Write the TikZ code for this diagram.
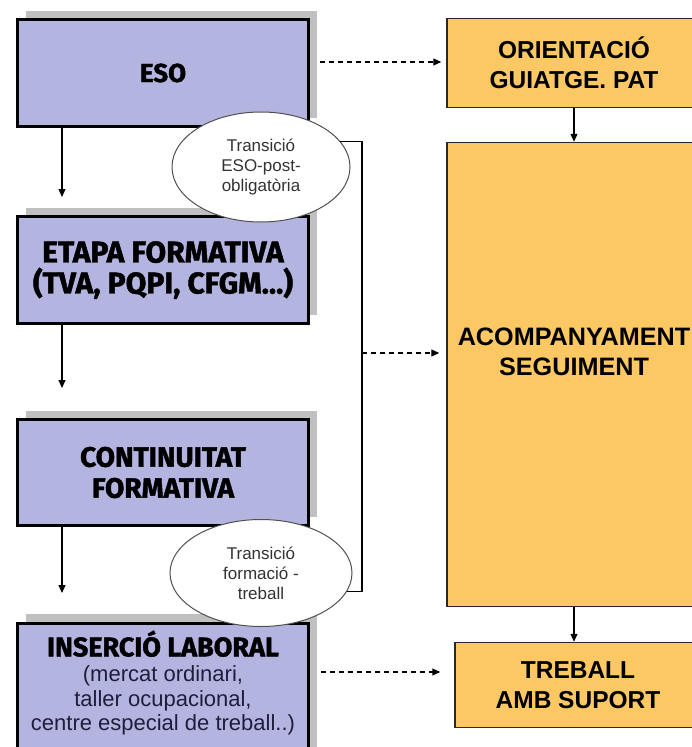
\documentclass[tikz,border=0pt]{standalone}
\usepackage{fontspec}
\setmainfont{Liberation Sans}
\newfontfamily\heavy{Fira Sans}[BoldFeatures={FakeBold=1.5}]
\usetikzlibrary{arrows.meta,shapes.geometric,shadows}
\definecolor{lav}{RGB}{180,180,225}
\definecolor{org}{RGB}{252,200,100}
\definecolor{shd}{RGB}{192,192,192}
\definecolor{navy}{RGB}{30,30,60}
\definecolor{ellline}{RGB}{80,80,80}
\definecolor{rline}{RGB}{40,40,40}
\begin{document}
\begin{tikzpicture}[x=1pt,y=-1pt,
  lbox/.style={draw=black, line width=3pt, fill=lav, minimum width=291pt, inner sep=0pt,
    align=center, text=black,
    drop shadow={shadow xshift=8pt, shadow yshift=9pt, fill=shd, opacity=1}},
  ltitle/.style={font=\heavy\bfseries\fontsize{#1}{31}\selectfont},
  ell/.style={ellipse, draw=ellline, line width=1pt, fill=white, align=center, inner sep=0pt,
    text=black!80, font=\fontsize{17}{20}\selectfont},
  rbox/.style={draw=rline, line width=1.5pt, fill=org, inner sep=0pt, align=center,
    font=\bfseries\fontsize{24.5}{30}\selectfont},
  rtext/.style={align=center, inner sep=0pt, font=\bfseries\fontsize{25.2}{30}\selectfont},
  arr/.style={-{Triangle[length=8pt,width=7pt]}, line width=1.2pt},
  dasharr/.style={arr, dash pattern=on 5pt off 4pt}
]
\clip (0,0) rectangle (692,747);
\fill[white] (0,0) rectangle (692,747);

% left column boxes
\node[lbox, minimum height=107pt, ltitle=26] (eso) at (163,73) {ESO};
\node[lbox, minimum height=107pt, ltitle=30] (etapa) at (163,270) {ETAPA FORMATIVA\\(TVA, PQPI, CFGM...)};
\node[lbox, minimum height=106pt, ltitle=28] (cont) at (163,472.5) {CONTINUITAT\\FORMATIVA};
\node[lbox, minimum height=136pt, anchor=north] (ins) at (163,621.5) {};
\node[align=center, inner sep=0pt, text=navy, font=\fontsize{22}{24.5}\selectfont] (instxt) at (163,683)
  {{\heavy\bfseries\color{black}\fontsize{27}{27}\selectfont INSERCIÓ LABORAL}\\[1pt]
   (mercat ordinari,\\taller ocupacional,\\centre especial de treball..)};

% right column boxes
\node[rbox, minimum width=254pt, minimum height=89pt] (orient) at (574,63) {ORIENTACIÓ\\GUIATGE. PAT};
\node[rbox, minimum width=254pt, minimum height=464pt] (acomp) at (574,374.5) {};
\node[rtext] (acomptxt) at (574,352) {ACOMPANYAMENT\\SEGUIMENT};
\node[rbox, minimum width=246pt, minimum height=85pt] (treb) at (578,685) {TREBALL\\AMB SUPORT};

% ellipses
\node[ell, minimum width=178pt, minimum height=110pt] (e1) at (261,167) {Transició\\ESO-post-\\obligatòria};
\node[ell, minimum width=182pt, minimum height=107pt] (e2) at (261,573) {Transició\\formació -\\treball};

% left arrows
\coordinate (t1) at (62,197);
\coordinate (t2) at (62,388);
\coordinate (t3) at (62,593);
\draw[arr] (eso.south -| t1) -- (t1);
\draw[arr] (etapa.south -| t2) -- (t2);
\draw[arr] (cont.south -| t3) -- (t3);

% bracket
\coordinate (cmid) at (362,353);
\draw[line width=1.2pt] (e1.18) -| (cmid) |- (e2.-12);

% dashed arrows
\coordinate (d1) at (0,62);
\coordinate (d3) at (0,672);
\draw[dasharr, shorten <=10pt, shorten >=5pt] (eso.east |- d1) -- (orient.west |- d1);
\draw[dasharr, shorten >=7pt] (cmid) -- (acomp.west |- cmid);
\draw[dasharr, shorten <=11pt, shorten >=14pt] (ins.east |- d3) -- (treb.west |- d3);

% right arrows
\draw[arr] (orient.south) -- (acomp.north);
\draw[arr] (acomp.south) -- (acomp.south |- treb.north);
\end{tikzpicture}
\end{document}
